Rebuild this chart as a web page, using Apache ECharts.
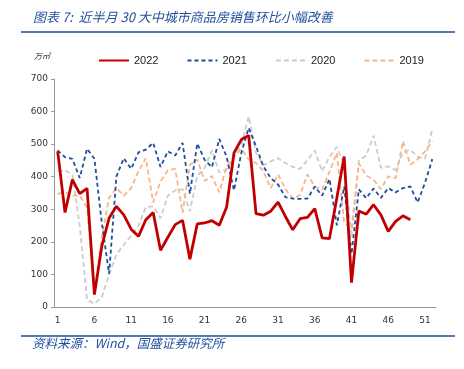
<!DOCTYPE html>
<html>
<head>
<meta charset="utf-8">
<script src="https://cdn.jsdelivr.net/npm/echarts@6/dist/echarts.min.js"></script>
<style>
  html, body {margin: 0; padding: 0; background: #fff;}
  #chart {width: 464px; height: 369px;}
</style>
</head>
<body>
<div id="chart"></div>
<script>
// weeks 1..52
const weeks = Array.from({length: 52}, (_, i) => String(i + 1));
const yTicks = [0, 100, 200, 300, 400, 500, 600, 700];

const s2022 = [478, 290, 391, 348, 364, 38, 186, 273, 309, 283, 239, 217, 268, 290, 174, 214, 253, 266, 147, 255,
  258, 265, 251, 307, 473, 514, 527, 287, 282, 294, 322, 278, 237, 271, 275, 302, 212, 210, 335, 462,
  75, 295, 285, 314, 283, 232, 263, 280, 268];
const s2021 = [481, 460, 455, 396, 486, 455, 260, 102, 401, 457, 424, 475, 483, 504, 430, 478, 465, 504, 348, 502,
  452, 429, 516, 461, 358, 473, 550, 493, 432, 396, 376, 337, 333, 332, 333, 370, 342, 393, 251, 370,
  163, 361, 334, 364, 335, 365, 352, 365, 370, 321, 381, 454];
const s2020 = [417, 420, 406, 250, 22, 10, 30, 100, 161, 191, 219, 250, 307, 309, 273, 342, 358, 362, 294, 402,
  427, 481, 413, 423, 461, 498, 585, 473, 435, 447, 457, 442, 430, 424, 451, 480, 417, 461, 491, 437,
  215, 450, 465, 526, 427, 432, 420, 475, 483, 461, 455, 546];
const s2019 = [347, 352, 342, 342, 305, 45, 215, 335, 365, 342, 365, 417, 457, 321, 386, 420, 424, 289, 437, 453,
  387, 402, 352, 432, 461, 485, 453, 442, 417, 365, 407, 362, 333, 344, 407, 370, 360, 415, 473, 260,
  240, 441, 404, 391, 362, 401, 396, 509, 437, 453, 478, 509];

const chart = echarts.init(document.getElementById('chart'));

const blue = '#1f4e9c';
const mkLine = (name, data, color, width, type, z) => ({
  name, data, type: 'line', symbol: 'none', showSymbol: false, z,
  lineStyle: {color, width, type},
  itemStyle: {color}
});

chart.setOption({
  animation: false,
  textStyle: {fontFamily: 'DejaVu Sans'},
  title: {
    text: '图表 7:  近半月 30 大中城市商品房销售环比小幅改善',
    left: 28, top: 6,
    textStyle: {color: blue, fontSize: 13, fontStyle: 'italic', fontWeight: 'normal', fontFamily: 'Noto Sans CJK SC'}
  },
  graphic: [
    {type: 'line', shape: {x1: 21, y1: 32, x2: 455, y2: 32}, style: {stroke: blue, lineWidth: 1.5}},
    {type: 'line', shape: {x1: 21, y1: 336, x2: 455, y2: 336}, style: {stroke: blue, lineWidth: 1.5}},
    {type: 'text', left: 34, top: 52,
      style: {text: '万㎡', fill: '#333', fontSize: 8, fontStyle: 'italic', fontFamily: 'Noto Sans CJK SC'}},
    {type: 'text', left: 32, top: 337,
      style: {text: '资料来源：Wind，国盛证券研究所', fill: blue, fontSize: 12.5, fontStyle: 'italic', fontFamily: 'Noto Sans CJK SC'}}
  ],
  legend: {
    left: 93, top: 50,
    itemWidth: 30, itemHeight: 10, itemGap: 28,
    itemStyle: {opacity: 0},
    data: ['2022', '2021', '2020', '2019'],
    textStyle: {color: '#222', fontSize: 11, fontFamily: 'Liberation Sans'}
  },
  grid: {left: 54, right: 28, top: 79, bottom: 62, containLabel: false},
  xAxis: {
    type: 'category',
    data: weeks,
    boundaryGap: true,
    axisLine: {lineStyle: {color: '#999', width: 1}},
    axisTick: {show: false},
    axisLabel: {interval: 4, color: '#333', fontSize: 9, margin: 9}
  },
  yAxis: {
    type: 'value',
    min: yTicks[0], max: yTicks[yTicks.length - 1], interval: 100,
    axisLine: {show: true, lineStyle: {color: '#999', width: 1}},
    axisTick: {show: true, length: 3, lineStyle: {color: '#999'}},
    splitLine: {show: false},
    axisLabel: {color: '#333', fontSize: 9, margin: 6}
  },
  series: [
    mkLine('2022', s2022, '#c00000', 2.8, 'solid', 10),
    mkLine('2021', s2021, '#1f4ea0', 1.8, [4, 3], 8),
    mkLine('2020', s2020, '#cccccc', 1.8, [5, 3], 4),
    mkLine('2019', s2019, '#f7b68a', 1.8, [5, 3], 6)
  ]
});
</script>
</body>
</html>
